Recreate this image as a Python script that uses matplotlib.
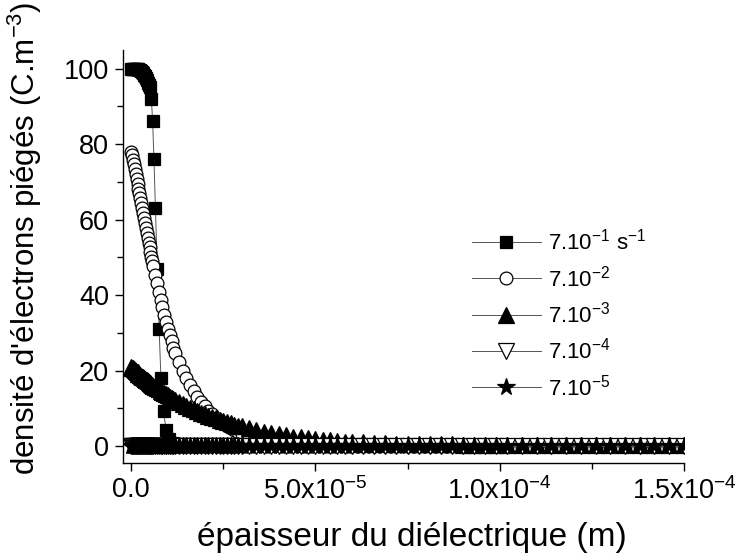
import matplotlib
matplotlib.use('Agg')
import matplotlib.pyplot as plt
from matplotlib.ticker import MultipleLocator

plt.rcParams['font.family'] = ['Liberation Sans', 'DejaVu Sans']
plt.rcParams['mathtext.default'] = 'regular'

# ── données (x en µm) ────────────────────────────────────────────────
x_um = [0, 0.25, 0.5, 0.75, 1, 1.25, 1.5, 1.75, 2, 2.25, 2.5, 2.75, 3, 3.25,
        3.5, 3.75, 4, 4.25, 4.5, 4.75, 5, 5.25, 5.5, 5.75, 6,
        6.5, 7, 7.5, 8, 8.5, 9, 9.5, 10, 10.5, 11, 11.5, 12,
        13, 14, 15, 16, 17, 18, 19, 20, 21, 22, 23, 24, 25, 26, 27, 28, 29, 30,
        32, 34, 36, 38, 40, 42, 44, 46, 48, 50, 52, 54, 56, 58, 60,
        63, 66, 69, 72, 75, 78, 81, 84, 87, 90, 93, 96, 99, 102,
        106, 110, 114, 118, 122, 126, 130, 134, 138, 142, 146, 150]

x_sq_um = [0, 0.25, 0.5, 0.75, 1, 1.25, 1.5, 1.75, 2, 2.25, 2.5, 2.75, 3,
           3.25, 3.5, 3.75, 4, 4.25, 4.5, 4.75, 5,
           5.5, 5.85, 6.2, 6.6, 7.1, 7.6, 8.1, 8.8, 9.5, 10.2, 11, 12, 13,
           14, 18, 22, 26, 30, 34, 38, 42, 46, 50, 54, 58, 62, 66, 70, 74, 78,
           82, 86, 90, 94, 98, 102, 106, 110, 114, 118, 122, 126, 130, 134,
           138, 142, 146, 150]

# 7.10^-1 s^-1 (carrés pleins)
y_sq = [100, 100, 100, 100, 100, 100, 100, 99.9, 99.8, 99.7, 99.5, 99.3, 99.0,
        98.7, 98.3, 97.9, 97.4, 96.9, 96.3, 95.7, 95.0,
        92, 86, 76, 63, 47, 31, 18, 9.2, 4.3, 1.8, 0.7, 0.3, 0.1,
        0, 0, 0, 0, 0, 0, 0, 0, 0, 0, 0, 0, 0, 0, 0, 0, 0,
        0, 0, 0, 0, 0, 0, 0, 0, 0, 0, 0, 0, 0, 0,
        0, 0, 0, 0]

# 7.10^-2 (cercles vides)
y_circ = [77.8, 77.0, 75.9, 74.7, 73.4, 72.1, 70.8, 69.5, 68.2, 66.9, 65.6,
          64.3, 63.0, 61.7, 60.4, 59.1, 57.8, 56.5, 55.2, 53.9, 52.7, 51.4,
          50.2, 49.0, 47.8,
          45.4, 43.1, 40.9, 38.8, 36.8, 34.8, 32.9, 31.1, 29.4, 27.7, 26.1, 24.6,
          22.2, 19.9, 17.9, 16.1, 14.5, 13.0, 11.7, 10.5, 9.4, 8.4, 7.5, 6.7,
          6.0, 5.3, 4.7, 4.2, 3.7, 3.3,
          2.6, 2.0, 1.6, 1.25, 1.0, 0.8, 0.62, 0.5, 0.4, 0.3, 0.24, 0.19,
          0.15, 0.12, 0.1,
          0.07, 0.05, 0.04, 0.03, 0.02, 0.02, 0.01, 0.01, 0, 0, 0, 0, 0, 0,
          0, 0, 0, 0, 0, 0, 0, 0, 0, 0, 0, 0]

# 7.10^-3 (triangles pleins)
y_tri = [21.0, 20.8, 20.6, 20.4, 20.1, 19.9, 19.7, 19.5, 19.2, 19.0, 18.8,
         18.6, 18.4, 18.2, 18.0, 17.8, 17.6, 17.4, 17.2, 17.0, 16.8, 16.6,
         16.4, 16.2, 16.0,
         15.7, 15.3, 15.0, 14.6, 14.3, 14.0, 13.7, 13.4, 13.1, 12.8, 12.5, 12.2,
         11.7, 11.1, 10.6, 10.1, 9.7, 9.2, 8.8, 8.4, 8.0, 7.6, 7.3, 6.9,
         6.6, 6.3, 6.0, 5.7, 5.4, 5.2,
         4.7, 4.2, 3.8, 3.5, 3.1, 2.8, 2.5, 2.3, 2.0, 1.8, 1.65, 1.5, 1.3,
         1.2, 1.1,
         0.95, 0.85, 0.75, 0.65, 0.6, 0.55, 0.5, 0.45, 0.42, 0.4, 0.38, 0.36,
         0.34, 0.32,
         0.3, 0.28, 0.26, 0.25, 0.24, 0.23, 0.22, 0.21, 0.2, 0.2, 0.2, 0.2]

# 7.10^-4 (triangles bas vides) et 7.10^-5 (étoiles) : ~0 partout
y_tdown = [0, 0, 0, 0, 0, 0, 0, 0, 0, 0, 0, 0,
           0, 0, 0, 0, 0, 0, 0, 0, 0, 0, 0, 0,
           0, 0, 0, 0, 0, 0, 0, 0, 0, 0, 0, 0,
           0, 0, 0, 0, 0, 0, 0, 0, 0, 0, 0, 0,
           0, 0, 0, 0, 0, 0, 0, 0, 0, 0, 0, 0,
           0, 0, 0, 0, 0, 0, 0, 0, 0, 0, 0, 0,
           0, 0, 0, 0, 0, 0, 0, 0, 0, 0, 0, 0,
           0, 0, 0, 0, 0, 0, 0, 0, 0, 0, 0, 0]
y_star = [0, 0, 0, 0, 0, 0, 0, 0, 0, 0, 0, 0,
          0, 0, 0, 0, 0, 0, 0, 0, 0, 0, 0, 0,
          0, 0, 0, 0, 0, 0, 0, 0, 0, 0, 0, 0,
          0, 0, 0, 0, 0, 0, 0, 0, 0, 0, 0, 0,
          0, 0, 0, 0, 0, 0, 0, 0, 0, 0, 0, 0,
          0, 0, 0, 0, 0, 0, 0, 0, 0, 0, 0, 0,
          0, 0, 0, 0, 0, 0, 0, 0, 0, 0, 0, 0,
          0, 0, 0, 0, 0, 0, 0, 0, 0, 0, 0, 0]

labels = ['7.10$^{-1}$ s$^{-1}$', '7.10$^{-2}$', '7.10$^{-3}$',
          '7.10$^{-4}$', '7.10$^{-5}$']

x_ticks = [0, 5e-5, 1e-4, 1.5e-4]
x_ticklabels = ['0.0', '5.0x10$^{-5}$', '1.0x10$^{-4}$', '1.5x10$^{-4}$']
y_ticks = [0, 20, 40, 60, 80, 100]

x_m = [v * 1e-6 for v in x_um]
x_sq_m = [v * 1e-6 for v in x_sq_um]

# ── figure ───────────────────────────────────────────────────────────
fig = plt.figure(figsize=(7.44, 5.53), dpi=100)
ax = fig.add_axes([0.1653, 0.1627, 0.7540, 0.7468])

line_kw = dict(color='#555555', linewidth=0.7, markeredgecolor='black',
               markeredgewidth=0.9)
ax.plot(x_sq_m, y_sq, marker='s', markersize=8.8, markerfacecolor='black',
        label=labels[0], **line_kw)
ax.plot(x_m, y_circ, marker='o', markersize=9.2, markerfacecolor='white',
        label=labels[1], **line_kw)
ax.plot(x_m, y_tri, marker='^', markersize=12, markerfacecolor='black',
        label=labels[2], **line_kw)
ax.plot(x_m, y_tdown, marker='v', markersize=11.5, markerfacecolor='white',
        label=labels[3], **line_kw)
ax.plot(x_m, y_star, marker='*', markersize=13, markerfacecolor='black',
        label=labels[4], **line_kw)

ax.set_xlim(-2.2e-6, 1.5e-4)
ax.set_ylim(-4.5, 104.9)

ax.spines['top'].set_visible(False)
ax.spines['right'].set_visible(False)
for s in ('left', 'bottom'):
    ax.spines[s].set_linewidth(1.0)

ax.set_xticks(x_ticks)
ax.set_xticklabels(x_ticklabels)
ax.set_yticks(y_ticks)
ax.xaxis.set_minor_locator(MultipleLocator(2.5e-5))
ax.yaxis.set_minor_locator(MultipleLocator(10))
ax.tick_params(which='major', direction='out', length=6, width=1.0,
               labelsize=19.5, pad=4)
ax.tick_params(which='minor', direction='out', length=4, width=1.0)

ax.set_xlabel('épaisseur du diélectrique (m)', fontsize=24, va='center')
ax.xaxis.set_label_coords(0.515, -0.18)
ax.set_ylabel("densité d'électrons piégés (C.m$^{-3}$)", fontsize=22.5,
              va='center')
ax.yaxis.set_label_coords(-0.175, 0.545)

ax.legend(loc='upper left', bbox_to_anchor=(472 / 744, 1 - 229 / 553),
          bbox_transform=fig.transFigure, frameon=False, fontsize=16,
          borderpad=0, borderaxespad=0, handlelength=3.1,
          handletextpad=0.3, labelspacing=0.47, numpoints=1)

fig.savefig('out.png', dpi=100)
